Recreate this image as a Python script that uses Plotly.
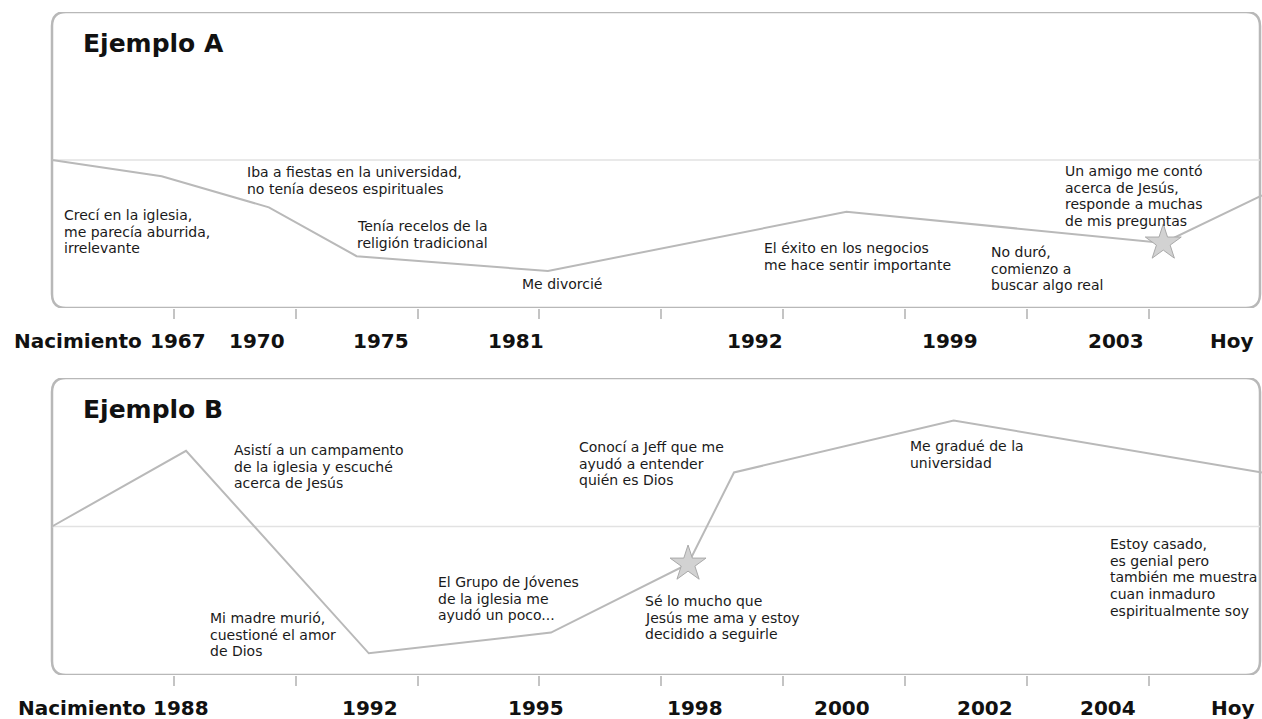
import plotly.graph_objects as go

# ---------------- data ----------------
# Panel A (Ejemplo A)
a_x = [0.0, 0.90, 1.78, 2.50, 4.07, 6.52, 9.12, 9.93]
a_y = [0.0, -0.11, -0.32, -0.65, -0.75, -0.35, -0.56, -0.24]
a_star_x = [9.12]
a_star_y = [-0.56]
a_tick_labels = ["Nacimiento", "1967", "1970", "1975", "1981", "1992", "1999", "2003", "Hoy"]
a_label_pos = [0.21, 1.03, 1.68, 2.70, 3.81, 5.77, 7.37, 8.73, 9.68]
a_notes = [
    "Crecí en la iglesia,\nme parecía aburrida,\nirrelevante",
    "Iba a fiestas en la universidad,\nno tenía deseos espirituales",
    "Tenía recelos de la\nreligión tradicional",
    "Me divorcié",
    "El éxito en los negocios\nme hace sentir importante",
    "No duró,\ncomienzo a\nbuscar algo real",
    "Un amigo me contó\nacerca de Jesús,\nresponde a muchas\nde mis preguntas",
]
a_note_x = [0.082, 1.584, 2.487, 3.841, 5.827, 7.690, 8.297]
a_note_y = [-0.372, -0.081, -0.446, -0.838, -0.595, -0.622, -0.074]

# Panel B (Ejemplo B)
b_x = [0.0, 1.10, 2.60, 4.095, 5.22, 5.597, 7.40, 9.93]
b_y = [0.0, 0.51, -0.854, -0.714, -0.252, 0.364, 0.714, 0.364]
b_star_x = [5.22]
b_star_y = [-0.252]
b_tick_labels = ["Nacimiento", "1988", "1992", "1995", "1998", "2000", "2002", "2004", "Hoy"]
b_label_pos = [0.25, 1.06, 2.61, 3.97, 5.28, 6.48, 7.66, 8.67, 9.69]
b_notes = [
    "Asistí a un campamento\nde la iglesia y escuché\nacerca de Jesús",
    "Mi madre murió,\ncuestioné el amor\nde Dios",
    "El Grupo de Jóvenes\nde la iglesia me\nayudó un poco...",
    "Conocí a Jeff que me\nayudó a entender\nquién es Dios",
    "Sé lo mucho que\nJesús me ama y estoy\ndecidido a seguirle",
    "Me gradué de la\nuniversidad",
    "Estoy casado,\nes genial pero\ntambién me muestra\ncuan inmaduro\nespiritualmente soy",
]
b_note_x = [1.477, 1.280, 3.151, 4.309, 4.850, 7.025, 8.666]
b_note_y = [0.515, -0.616, -0.374, 0.535, -0.502, 0.542, -0.118]

titles = ["Ejemplo A", "Ejemplo B"]
tick_positions = [1, 2, 3, 4, 5, 6, 7, 8, 9]

# ---------------- figure ----------------
W, H = 1262, 719
X_RANGE = [-52 / 121.85, 1210 / 121.85]
BOX_X1 = 1208 / 121.85

LINE_COLOR = "#b9b9b9"
BOX_COLOR = "#b8b8b8"
TEXT_FONT = "DejaVu Sans"

fig = go.Figure()

panels = [
    dict(x=a_x, y=a_y, sx=a_star_x, sy=a_star_y, labels=a_tick_labels, lpos=a_label_pos,
         notes=a_notes, nx=a_note_x, ny=a_note_y, xa="x", ya="y", xname="xaxis", yname="yaxis",
         dom=[(H - 308) / H, (H - 12) / H], label_y=(H - 341) / H, half=148.0, title=titles[0]),
    dict(x=b_x, y=b_y, sx=b_star_x, sy=b_star_y, labels=b_tick_labels, lpos=b_label_pos,
         notes=b_notes, nx=b_note_x, ny=b_note_y, xa="x2", ya="y2", xname="xaxis2", yname="yaxis2",
         dom=[(H - 675) / H, (H - 378) / H], label_y=(H - 708) / H, half=148.5, title=titles[1]),
]

shapes = []
annotations = []
layout_axes = {}

for p in panels:
    fig.add_trace(go.Scatter(x=p["x"], y=p["y"], mode="lines", xaxis=p["xa"], yaxis=p["ya"],
                             line=dict(color=LINE_COLOR, width=2), cliponaxis=False,
                             showlegend=False, hoverinfo="skip"))
    fig.add_trace(go.Scatter(x=p["sx"], y=p["sy"], mode="markers", xaxis=p["xa"], yaxis=p["ya"],
                             marker=dict(symbol="star", size=27, color="#d2d2d2",
                                         line=dict(color="#a9a9a9", width=1)),
                             cliponaxis=False, showlegend=False, hoverinfo="skip"))

    # rounded box
    rx = 14 / 121.85
    ry = 14 / p["half"]
    x0, x1, y0, y1 = 0.0, BOX_X1, -1.0, 1.0
    path = (f"M {x0+rx},{y1} L {x1-rx},{y1} Q {x1},{y1} {x1},{y1-ry} "
            f"L {x1},{y0+ry} Q {x1},{y0} {x1-rx},{y0} L {x0+rx},{y0} "
            f"Q {x0},{y0} {x0},{y0+ry} L {x0},{y1-ry} Q {x0},{y1} {x0+rx},{y1} Z")
    shapes.append(dict(type="path", path=path, xref=p["xa"], yref=p["ya"],
                       line=dict(color=BOX_COLOR, width=2.5), layer="below"))
    shapes.append(dict(type="line", x0=x0, x1=x1, y0=0, y1=0, xref=p["xa"], yref=p["ya"],
                       line=dict(color="#e2e2e2", width=1.5), layer="below"))

    # title
    annotations.append(dict(text=p["title"], x=29 / 121.85, y=0.79, xref=p["xa"], yref=p["ya"],
                            xanchor="left", yanchor="middle", showarrow=False,
                            font=dict(family=TEXT_FONT, size=25, color="#111111", weight="bold")))

    # notes (one annotation per line to keep tight leading)
    for note, nx, ny in zip(p["notes"], p["nx"], p["ny"]):
        for i, line in enumerate(note.split("\n")):
            annotations.append(dict(text=line, x=nx, y=ny, xref=p["xa"], yref=p["ya"],
                                    xanchor="left", yanchor="middle", yshift=-16.7 * i,
                                    showarrow=False,
                                    font=dict(family=TEXT_FONT, size=14, color="#1a1a1a")))

    # bottom labels
    for lab, lx in zip(p["labels"], p["lpos"]):
        annotations.append(dict(text=lab, x=lx, y=p["label_y"], xref=p["xa"], yref="paper",
                                xanchor="center", yanchor="middle", showarrow=False,
                                font=dict(family=TEXT_FONT, size=20, color="#111111", weight="bold")))

    layout_axes[p["xname"]] = dict(range=X_RANGE, domain=[0, 1], anchor=p["ya"],
                                   showgrid=False, zeroline=False, showline=False,
                                   tickmode="array", tickvals=tick_positions, ticks="outside",
                                   ticklen=10, tickwidth=2, tickcolor="#c4c4c4",
                                   showticklabels=False, fixedrange=True)
    layout_axes[p["yname"]] = dict(range=[-1, 1], domain=p["dom"], anchor=p["xa"],
                                   visible=False, fixedrange=True)

fig.update_layout(width=W, height=H, margin=dict(l=0, r=0, t=0, b=0),
                  paper_bgcolor="white", plot_bgcolor="white",
                  shapes=shapes, annotations=annotations, **layout_axes)

fig.write_html("out.html", config={"displayModeBar": False},
               post_script="document.body.style.margin='0';document.body.style.overflow='hidden';")
